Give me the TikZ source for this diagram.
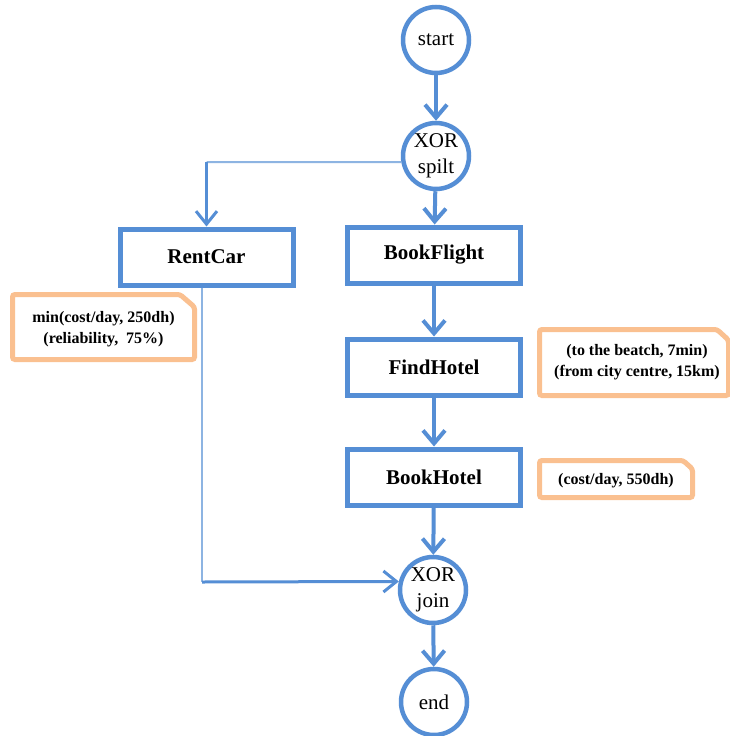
\documentclass[tikz,border=0pt]{standalone}
\usepackage{fontspec}
\setmainfont{Liberation Serif}
\usetikzlibrary{arrows.meta}
\definecolor{flowblue}{RGB}{85,142,213}
\definecolor{lightblue}{RGB}{141,180,226}
\definecolor{noteorange}{RGB}{250,192,144}
\tikzset{
  task/.style={draw=flowblue, line width=5pt, fill=white,
    minimum width=173pt, minimum height=56pt, inner sep=0pt,
    font=\fontsize{21}{25}\selectfont\bfseries},
  gate/.style={circle, draw=flowblue, line width=4.5pt, fill=white,
    minimum size=66pt, inner sep=0pt, align=center,
    font=\fontsize{21}{26}\selectfont},
  flow/.style={draw=flowblue, line width=4pt,
    -{Straight Barb[length=13pt,width=22pt]}},
  sideflow/.style={draw=flowblue, line width=3pt,
    -{Straight Barb[length=13pt,width=21pt]}},
  thinline/.style={draw=lightblue, line width=2pt},
  notebox/.style={draw=noteorange, line width=5pt, rounded corners=2.5pt},
  notetext/.style={align=center, inner sep=0pt,
    font=\fontsize{16}{21}\selectfont\bfseries},
}
\begin{document}
\begin{tikzpicture}[x=1pt,y=-1pt]
  \useasboundingbox (0,0) rectangle (730,736);
  \fill[white] (0,0) rectangle (730,736);

  % main flow nodes
  \node[gate] (start) at (436,40) {start};
  \node[gate] (split) at (436,156) {XOR\\spilt};
  \node[task] (rent) at (206.5,257) {RentCar};
  \node[task] (flight) at (434,255) {BookFlight};
  \node[task] (find) at (434,367) {FindHotel};
  \node[task] (bookh) at (434,477) {BookHotel};
  \node[gate] (join) at (433,590) {XOR\\join};
  \node[gate] (end) at (434,702) {end};

  % main column
  \draw[flow] (start) -- (split);
  \draw[flow] (split) -- (flight);
  \draw[flow] (flight) -- (find);
  \draw[flow] (find) -- (bookh);
  \draw[flow] (bookh) -- (join);
  \draw[flow] (join) -- (end);

  % car branch
  \coordinate (splitturn) at (206.5,162);
  \coordinate (jointurn) at (202,582);
  \draw[thinline] (split.190) -- (splitturn);
  \draw[sideflow] (splitturn) -- (rent.north);
  \draw[thinline] (rent.south -| jointurn) -- (jointurn);
  \draw[sideflow] (jointurn) -- (join.166);

  % quality notes
  \draw[notebox] (12.5,294.5) -- (180,294.5) -- (194.5,307) -- (194.5,359.5)
    -- (12.5,359.5) -- cycle;
  \node[notetext] (carnote) at (103.5,329) {min(cost/day, 250dh)\\(reliability,\ \ 75\%)};

  \draw[notebox] (539.5,329.5) -- (717,329.5) -- (728.5,340) -- (728.5,395.5)
    -- (539.5,395.5) -- cycle;
  \node[notetext] (hotelnote) at (637,362) {(to the beatch, 7min)\\(from city centre, 15km)};

  \draw[notebox] (539.5,460.5) -- (683,460.5) -- (692.5,469) -- (692.5,497.5)
    -- (539.5,497.5) -- cycle;
  \node[notetext] (costnote) at (616,481) {(cost/day, 550dh)};
\end{tikzpicture}
\end{document}
